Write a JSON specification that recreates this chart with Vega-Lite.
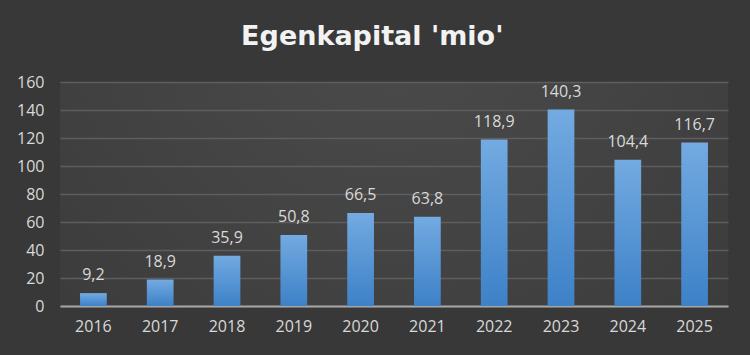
{
  "$schema": "https://vega.github.io/schema/vega-lite/v6.json",
  "autosize": "none",
  "width": 668,
  "height": 224,
  "padding": {"left": 60, "top": 82, "right": 22, "bottom": 49},
  "background": "#383838",
  "config": {
    "locale": {"number": {"decimal": ",", "thousands": ".", "grouping": [3], "currency": ["", " kr"]}},
    "view": {
      "stroke": null,
      "fill": {"gradient": "radial", "x1": 0.5, "y1": 0.2, "r1": 0, "x2": 0.5, "y2": 0.2, "r2": 0.85,
        "stops": [{"offset": 0, "color": "#4c4c4c"}, {"offset": 1, "color": "#383838"}]}
    },
    "font": "Open Sans"
  },
  "title": {
    "text": "Egenkapital 'mio'",
    "fontSize": 27,
    "fontWeight": "bold",
    "color": "#f2f2f2",
    "anchor": "middle",
    "frame": "bounds",
    "offset": 23,
    "font": "DejaVu Sans"
  },
  "data": {"values": [
    {"year": "2016", "value": 9.2},
    {"year": "2017", "value": 18.9},
    {"year": "2018", "value": 35.9},
    {"year": "2019", "value": 50.8},
    {"year": "2020", "value": 66.5},
    {"year": "2021", "value": 63.8},
    {"year": "2022", "value": 118.9},
    {"year": "2023", "value": 140.3},
    {"year": "2024", "value": 104.4},
    {"year": "2025", "value": 116.7}
  ]},
  "encoding": {
    "x": {"field": "year", "type": "nominal", "sort": null,
      "scale": {"paddingInner": 0.6, "paddingOuter": 0.3},
      "axis": {"title": null, "labelAngle": 0, "labelFontSize": 16, "labelColor": "#d9d9d9",
        "labelPadding": 12, "ticks": false, "domainColor": "#a6a6a6", "domainWidth": 2, "grid": false}},
    "y": {"field": "value", "type": "quantitative",
      "scale": {"domain": [0, 160], "nice": false},
      "axis": {"title": null, "values": [0, 20, 40, 60, 80, 100, 120, 140, 160], "labelFontSize": 16,
        "labelColor": "#d9d9d9", "labelPadding": 16, "ticks": false, "domain": false,
        "gridColor": "#5e5e5e", "gridWidth": 1.5}}
  },
  "layer": [
    {"mark": {"type": "bar",
      "fill": {"gradient": "linear", "x1": 0, "y1": 0, "x2": 0, "y2": 1,
        "stops": [{"offset": 0, "color": "#73aae1"}, {"offset": 1, "color": "#3d81c7"}]}}},
    {"mark": {"type": "text", "baseline": "bottom", "dy": -10, "fontSize": 16, "color": "#d9d9d9", "font": "Open Sans"},
      "encoding": {"text": {"field": "value", "type": "quantitative", "format": ".1f"}}}
  ]
}
